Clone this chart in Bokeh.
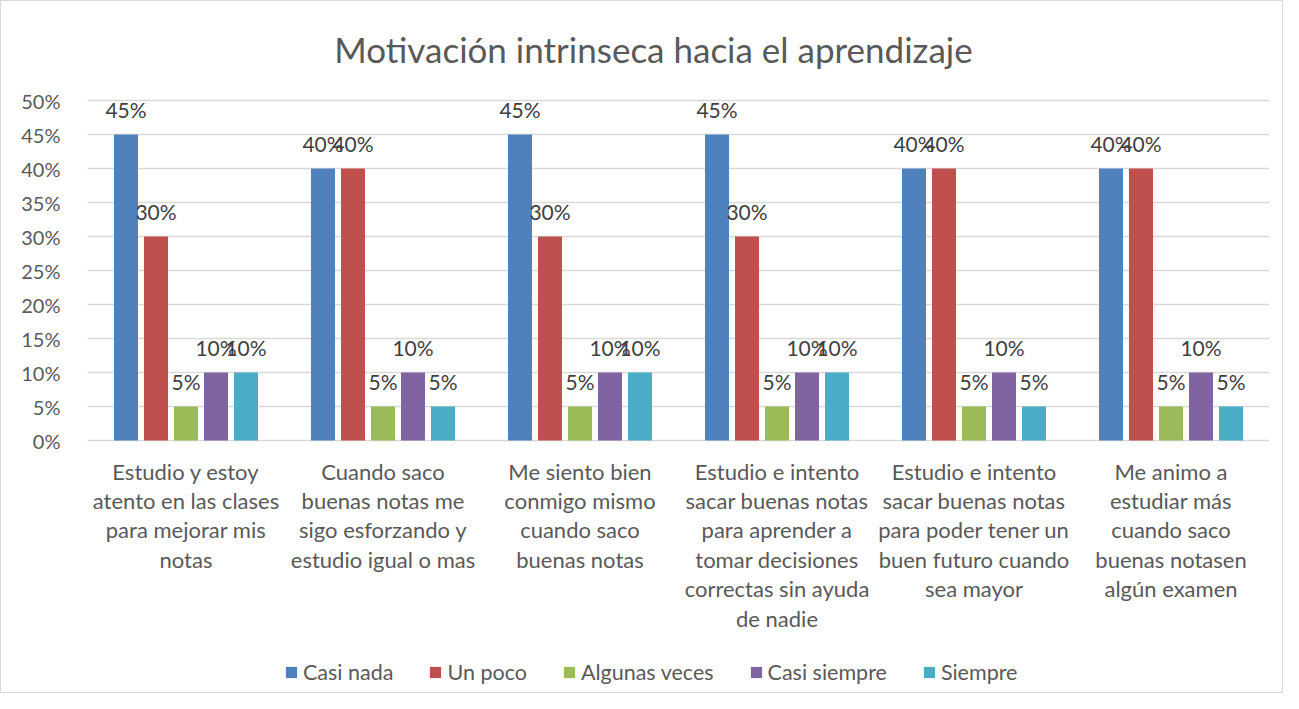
from bokeh.plotting import figure
from bokeh.models import (ColumnDataSource, FixedTicker, Legend, LegendItem,
                          NumeralTickFormatter, Range1d)
from bokeh.core.properties import value
from bokeh.embed import file_html
from bokeh.resources import INLINE

# ---------------- data ----------------
title_text = "Motivación intrinseca hacia el aprendizaje"
categories = [
    "Estudio y estoy\natento en las clases\npara mejorar mis\nnotas",
    "Cuando saco\nbuenas notas me\nsigo esforzando y\nestudio igual o mas",
    "Me siento bien\nconmigo mismo\ncuando saco\nbuenas notas",
    "Estudio e intento\nsacar buenas notas\npara aprender a\ntomar decisiones\ncorrectas sin ayuda\nde nadie",
    "Estudio e intento\nsacar buenas notas\npara poder tener un\nbuen futuro cuando\nsea mayor",
    "Me animo a\nestudiar más\ncuando saco\nbuenas notasen\nalgún examen",
]
series_names = ["Casi nada", "Un poco", "Algunas veces", "Casi siempre", "Siempre"]
casi_nada = [0.45, 0.40, 0.45, 0.45, 0.40, 0.40]
un_poco = [0.30, 0.40, 0.30, 0.30, 0.40, 0.40]
algunas_veces = [0.05, 0.05, 0.05, 0.05, 0.05, 0.05]
casi_siempre = [0.10, 0.10, 0.10, 0.10, 0.10, 0.10]
siempre = [0.10, 0.05, 0.10, 0.10, 0.05, 0.05]
y_ticks = [0.0, 0.05, 0.10, 0.15, 0.20, 0.25, 0.30, 0.35, 0.40, 0.45, 0.50]

series_values = [casi_nada, un_poco, algunas_veces, casi_siempre, siempre]
colors = ["#4F81BD", "#C0504D", "#9BBB59", "#8064A2", "#4BACC6"]

FONT = "Lato"
TXT = "#595959"

# ---------------- layout (pixels) ----------------
W, H = 1283, 693
TOP, BAR_AREA = 99, 340           # top of the 50 % line, height of the 0..50 % band
px_per_unit = BAR_AREA / 0.5
y_end = 0.5 + TOP / px_per_unit                 # frame covers title area
y_start = -(H - TOP - BAR_AREA) / px_per_unit   # and label/legend area

p = figure(width=W, height=H, output_backend="svg", toolbar_location=None,
           x_range=Range1d(0, 6), y_range=Range1d(y_start, y_end),
           min_border_left=86, min_border_right=15, min_border_top=0,
           min_border_bottom=0)
p.styles = {"border": "1px solid #d9d9d9"}

n = len(categories)
slot = 30.0 / 197.0
bw = 24.0 / 197.0
centers = [i + 0.5 for i in range(n)]

# title
p.text(x=[3.0], y=[y_end], text=[title_text], text_align="center",
       text_baseline="middle", x_offset=-25, y_offset=47,
       text_font=value(FONT), text_font_size="35px", text_color=TXT)

items = []
for k, (name, vals, col) in enumerate(zip(series_names, series_values, colors)):
    xs = [c + (k - 2) * slot for c in centers]
    src = ColumnDataSource(dict(x=xs, top=vals,
                                lab=["%d%%" % round(v * 100) for v in vals]))
    r = p.vbar(x="x", top="top", width=bw, source=src, fill_color=col,
               line_color=None)
    p.text(x="x", y="top", text="lab", source=src, text_align="center",
           text_baseline="alphabetic", y_offset=-25, text_font=value(FONT),
           text_font_size="21px", text_color="#404040")
    items.append(LegendItem(label=name, renderers=[r]))

# category labels under the bars
cat_src = ColumnDataSource(dict(x=centers, y=[0.0] * n, t=categories))
p.text(x="x", y="y", text="t", source=cat_src, text_align="center",
       text_baseline="top", y_offset=17, text_font=value(FONT),
       text_font_size="22px", text_color=TXT, text_line_height=1.09)

# axes
p.yaxis.ticker = FixedTicker(ticks=y_ticks)
p.yaxis.formatter = NumeralTickFormatter(format="0%")
p.yaxis.axis_line_color = None
p.yaxis.major_tick_line_color = None
p.yaxis.minor_tick_line_color = None
p.yaxis.major_label_standoff = 21
p.yaxis.major_label_text_font = FONT
p.yaxis.major_label_text_font_size = "20px"
p.yaxis.major_label_text_color = TXT
p.xaxis.visible = False

p.xgrid.grid_line_color = None
p.ygrid.ticker = FixedTicker(ticks=y_ticks)
p.ygrid.grid_line_color = "#d9d9d9"
p.ygrid.grid_line_width = 1.5
p.outline_line_color = None

legend = Legend(items=items, orientation="horizontal", location=(197, 9),
                glyph_width=14, glyph_height=14, label_standoff=5, spacing=35,
                padding=0, margin=0, border_line_color=None,
                background_fill_alpha=0, label_text_font=FONT,
                label_text_font_size="21.5px", label_text_color=TXT)
p.add_layout(legend, "center")

open("out.html", "w").write(file_html(p, INLINE))
